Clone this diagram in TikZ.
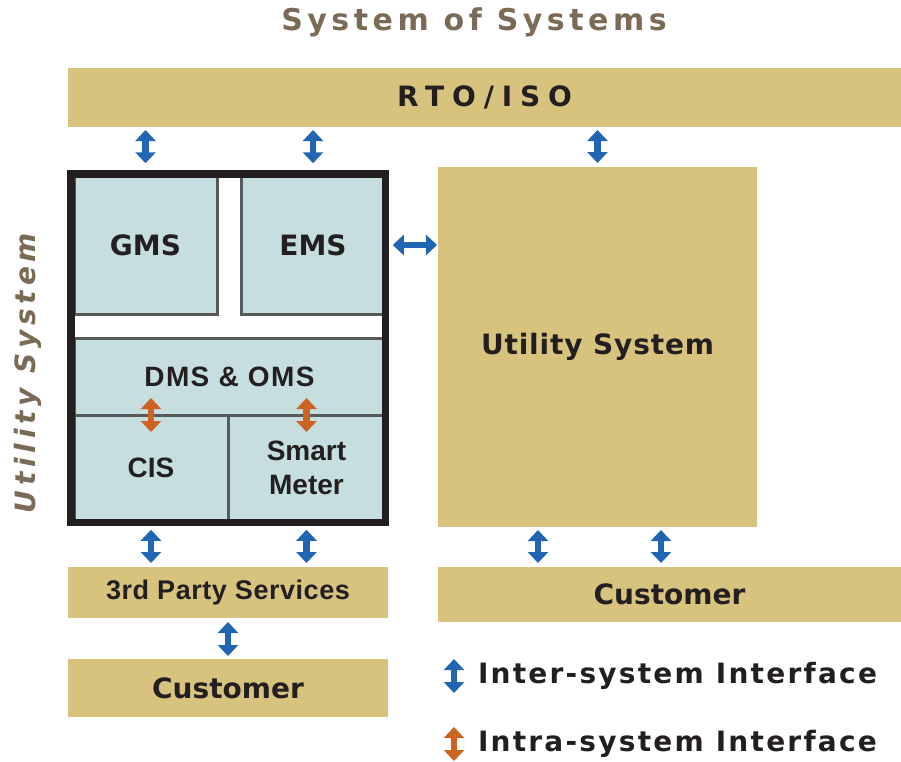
\documentclass[tikz,border=0pt]{standalone}
\usepackage{fontspec}
\setmainfont{Liberation Sans}
\newfontfamily\widefont{DejaVu Sans}
\newcommand{\tracking}[1]{\addfontfeature{LetterSpace=#1}}
\usetikzlibrary{positioning, arrows.meta, calc}

\definecolor{tan}{HTML}{D8C37E}
\definecolor{paleblue}{HTML}{C6DEE0}
\definecolor{interblue}{HTML}{2266B3}
\definecolor{intraorange}{HTML}{CC6322}
\definecolor{titlebrown}{HTML}{7B6A55}
\definecolor{edgegray}{HTML}{58595B}
\definecolor{ink}{HTML}{231F20}

\tikzset{
  every node/.style={outer sep=0pt, text=ink},
  band/.style={fill=tan, inner sep=0pt, anchor=north west,
    font=\widefont\bfseries\fontsize{28}{32}\selectfont},
  subsys/.style={fill=paleblue, draw=edgegray, line width=3pt, inner sep=0pt,
    anchor=north west, align=center, font=\bfseries\fontsize{28}{34}\selectfont},
  inter/.style={draw=interblue, line width=6.5pt,
    {Triangle[width=20pt,length=11pt]}-{Triangle[width=20pt,length=11pt]}},
  intra/.style={inter, draw=intraorange},
  legend/.style={anchor=west, inner sep=0pt,
    font=\widefont\bfseries\fontsize{28}{32}\selectfont\tracking{8}}
}

\begin{document}
\begin{tikzpicture}[x=1pt, y=-1pt]
\useasboundingbox (0,0) rectangle (901,761);

% title and RTO band
\node[font=\widefont\bfseries\fontsize{30}{36}\selectfont\tracking{15}, text=titlebrown] (title) at (474,22) {System of Systems};
\node[band, minimum width=833pt, minimum height=59pt, font=\widefont\bfseries\fontsize{28}{32}\selectfont\tracking{28}] (rto) at (68,68) {RTO/ISO};

% utility system (detailed)
\node[subsys, minimum width=143pt, minimum height=138pt, font=\widefont\bfseries\fontsize{28}{34}\selectfont] (gms) at (74,176) {GMS};
\node[subsys, minimum width=144pt, minimum height=138pt, font=\widefont\bfseries\fontsize{28}{34}\selectfont] (ems) at (241,176) {EMS};
\node[subsys, minimum width=311pt, minimum height=77pt, font=\bfseries\fontsize{28}{34}\selectfont\tracking{5}] (dms) at (74,338) {DMS \& OMS};
\node[subsys, minimum width=154pt, minimum height=105pt] (cis) at (74,415) {CIS};
\node[subsys, minimum width=157pt, minimum height=105pt] (meter) at (228,415) {Smart\\Meter};
\node[draw=ink, line width=7.5pt, anchor=north west, minimum width=314.5pt, minimum height=348.5pt] (util) at (70.75,173.75) {};

\node[rotate=90, text=titlebrown, font=\widefont\bfseries\itshape\fontsize{28}{32}\selectfont\tracking{17}] (label) at (28,373) {Utility System};

% utility system (other)
\node[band, minimum width=319pt, minimum height=360pt, font=\widefont\bfseries\fontsize{28}{32}\selectfont\tracking{3}] (usys) at (438,167) {Utility System};

% customers and services
\node[band, minimum width=320pt, minimum height=51pt, font=\bfseries\fontsize{27}{32}\selectfont\tracking{2}] (third) at (68,567) {3rd Party Services};
\node[band, minimum width=320pt, minimum height=58pt] (cust1) at (68,659) {Customer};
\node[band, minimum width=463pt, minimum height=55pt] (cust2) at (438,567) {Customer};

\coordinate (c1) at ($(usys.south)+(-59.5,0)$);
\coordinate (c2) at ($(usys.south)+(63.5,0)$);

% inter-system interfaces
\draw[inter, shorten <=3pt, shorten >=10.5pt] (gms.north |- rto.south) -- (gms.north |- util.north);
\draw[inter, shorten <=3pt, shorten >=10.5pt] (ems.north |- rto.south) -- (ems.north |- util.north);
\draw[inter, shorten <=3pt, shorten >=4pt] (usys.north |- rto.south) -- (usys.north);
\draw[inter, shorten <=7.5pt, shorten >=1pt] (ems.east -| util.east) -- (ems.east -| usys.west);
\draw[inter, shorten <=7.5pt, shorten >=4pt] (cis.south |- util.south) -- (cis.south |- third.north);
\draw[inter, shorten <=7.5pt, shorten >=4pt] (meter.south |- util.south) -- (meter.south |- third.north);
\draw[inter, shorten <=4pt, shorten >=3pt] (third.south) -- (cust1.north);
\draw[inter, shorten <=3pt, shorten >=4pt] (c1) -- (c1 |- cust2.north);
\draw[inter, shorten <=3pt, shorten >=4pt] (c2) -- (c2 |- cust2.north);

% intra-system interfaces
\draw[intra] ($(cis.north)+(0,-17)$) -- ($(cis.north)+(0,17)$);
\draw[intra] ($(meter.north)+(0,-17)$) -- ($(meter.north)+(0,17)$);

% legend
\node[legend] (interkey) at (478,676) {Inter-system Interface};
\node[legend] (intrakey) at (478,744) {Intra-system Interface};
\draw[inter] ($(interkey.west)+(-24,-17)$) -- ($(interkey.west)+(-24,17)$);
\draw[intra] ($(intrakey.west)+(-24,-17)$) -- ($(intrakey.west)+(-24,17)$);
\end{tikzpicture}
\end{document}
